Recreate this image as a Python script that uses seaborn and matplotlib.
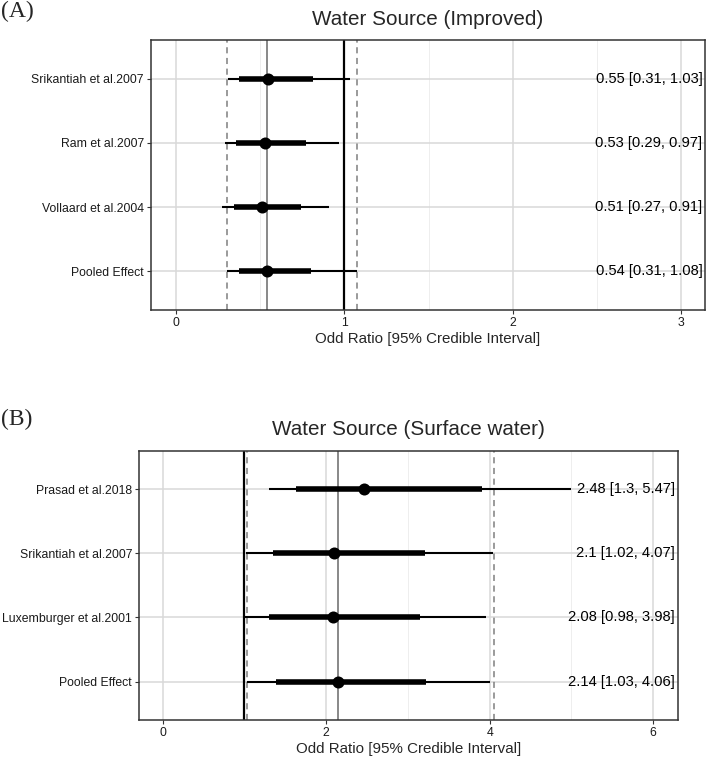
import matplotlib
matplotlib.use('Agg')
import matplotlib.pyplot as plt
import seaborn as sns
import pandas as pd
import numpy as np

# Panel A: water source (improved)
studies_a = ['Srikantiah et al.2007', 'Ram et al.2007', 'Vollaard et al.2004', 'Pooled Effect']
est_a = [0.55, 0.53, 0.51, 0.54]
lo95_a = [0.31, 0.29, 0.277, 0.305]
hi95_a = [1.035, 0.97, 0.908, 1.075]
lo80_a = [0.378, 0.358, 0.346, 0.374]
hi80_a = [0.817, 0.774, 0.742, 0.80]
labels_a = ['0.55 [0.31, 1.03]', '0.53 [0.29, 0.97]', '0.51 [0.27, 0.91]', '0.54 [0.31, 1.08]']
pooled_a = (0.54, 0.305, 1.075)

# Panel B: water source (surface water)
studies_b = ['Prasad et al.2018', 'Srikantiah et al.2007', 'Luxemburger et al.2001', 'Pooled Effect']
est_b = [2.46, 2.10, 2.08, 2.14]
lo95_b = [1.30, 1.02, 0.978, 1.03]
hi95_b = [4.99, 4.04, 3.95, 4.01]
lo80_b = [1.625, 1.345, 1.30, 1.385]
hi80_b = [3.91, 3.21, 3.15, 3.22]
labels_b = ['2.48 [1.3, 5.47]', '2.1 [1.02, 4.07]', '2.08 [0.98, 3.98]', '2.14 [1.03, 4.06]']
pooled_b = (2.14, 1.03, 4.05)

sns.set_style('white')
plt.rcParams['font.family'] = ['Liberation Sans', 'DejaVu Sans']

fig = plt.figure(figsize=(7.08, 7.58), dpi=100)


def forest(ax, studies, est, lo95, hi95, lo80, hi80, labels, pooled, xlim, xticks, minor, title):
    n = len(studies)
    df = pd.DataFrame({'study': studies, 'est': est, 'lo95': lo95, 'hi95': hi95,
                       'lo80': lo80, 'hi80': hi80, 'label': labels})
    df['y'] = np.arange(n, 0, -1)

    # grid
    for v in minor:
        ax.axvline(v, color='#ebebeb', lw=0.6, zorder=0)
    for v in xticks:
        ax.axvline(v, color='#d9d9d9', lw=1.1, zorder=0)
    for yy in df['y']:
        ax.axhline(yy, color='#d9d9d9', lw=1.1, zorder=0)

    m, l, h = pooled
    ax.axvline(m, color='#7f7f7f', lw=1.3, zorder=1)
    ax.axvline(l, color='#7f7f7f', lw=1.1, ls=(0, (4, 3)), zorder=1)
    ax.axvline(h, color='#7f7f7f', lw=1.1, ls=(0, (4, 3)), zorder=1)
    ax.axvline(1, color='black', lw=1.6, zorder=2)

    ax.hlines(df['y'], df['lo95'], df['hi95'], color='black', lw=1.5, zorder=3)
    ax.hlines(df['y'], df['lo80'], df['hi80'], color='black', lw=4.0, zorder=3)
    sns.scatterplot(data=df, x='est', y='y', ax=ax, color='black', s=75,
                    edgecolor='black', linewidth=0, zorder=4)

    tr = ax.get_yaxis_transform()
    for yy, lab in zip(df['y'], df['label']):
        ax.text(0.995, yy, lab, transform=tr, ha='right', va='center',
                fontsize=10.6, color='black', zorder=5)

    ax.set_xlim(*xlim)
    ax.set_ylim(0.4, n + 0.6)
    ax.set_xticks(xticks)
    ax.set_yticks(df['y'])
    ax.set_yticklabels(df['study'])
    ax.tick_params(axis='both', which='major', length=3, width=0.8, color='#333333',
                   labelsize=8.8, labelcolor='#1a1a1a', pad=2, left=True, bottom=True)
    ax.set_xlabel('Odd Ratio [95% Credible Interval]', fontsize=10.9, labelpad=2)
    ax.set_ylabel('')
    ax.set_title(title, fontsize=14.9, pad=11)
    for s in ax.spines.values():
        s.set_color('#333333')
        s.set_linewidth(1.1)


ax_a = fig.add_axes([0.2129, 0.591, 0.7829, 0.3562])
forest(ax_a, studies_a, est_a, lo95_a, hi95_a, lo80_a, hi80_a, labels_a, pooled_a,
       (-0.148, 3.14), [0, 1, 2, 3], [0.5, 1.5, 2.5], 'Water Source (Improved)')

ax_b = fig.add_axes([0.1963, 0.0501, 0.7609, 0.3553])
forest(ax_b, studies_b, est_b, lo95_b, hi95_b, lo80_b, hi80_b, labels_b, pooled_b,
       (-0.29, 6.30), [0, 2, 4, 6], [1, 3, 5], 'Water Source (Surface water)')

fig.text(0.002, 0.999, '(A)', ha='left', va='top', fontsize=17, family='Liberation Serif')
fig.text(0.002, 0.46, '(B)', ha='left', va='top', fontsize=17, family='Liberation Serif')

fig.savefig('out.png', dpi=100)
